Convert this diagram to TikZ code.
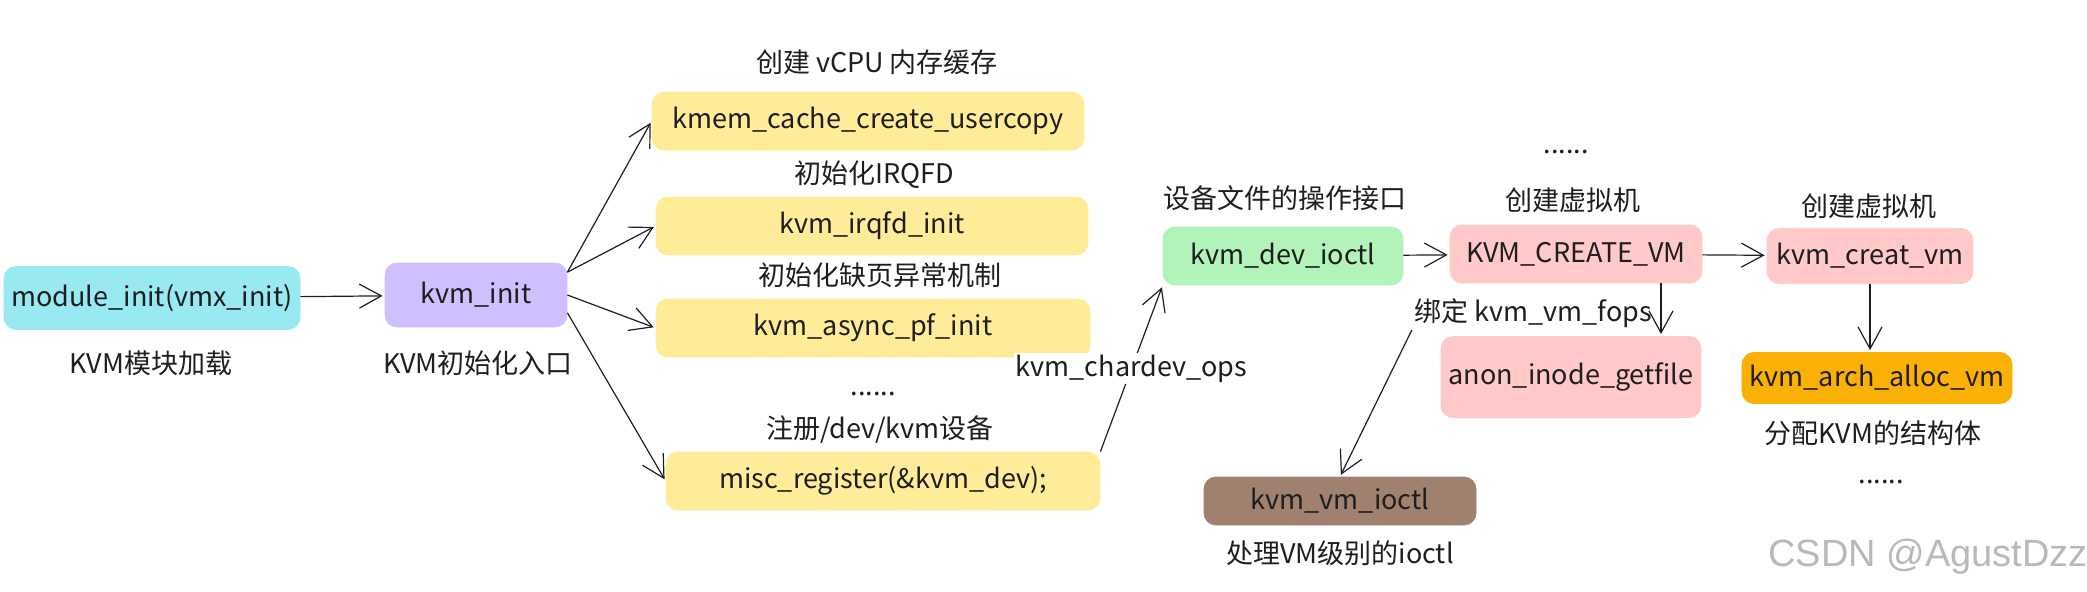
\documentclass[tikz,border=0pt]{standalone}
\usepackage{fontspec}
\setmainfont{Noto Sans CJK SC}
\newfontfamily\markfont{Liberation Sans}
\usepackage{tikz}
\usetikzlibrary{arrows.meta, positioning, calc}
\definecolor{initcyan}{HTML}{99E9F2}
\definecolor{initviolet}{HTML}{D0BFFF}
\definecolor{stepyellow}{HTML}{FFEC99}
\definecolor{opsgreen}{HTML}{B2F2BB}
\definecolor{vmpink}{HTML}{FFC9C9}
\definecolor{allocorange}{HTML}{FAB005}
\definecolor{ioctlbrown}{HTML}{A08170}
\definecolor{ink}{HTML}{1E1E1E}

\begin{document}
\begin{tikzpicture}[
    x=0.5pt, y=-0.5pt,
    >={Straight Barb[length=11pt, width=12pt]},
    fnbox/.style={rounded corners=6pt, minimum height=29pt, inner sep=0pt, text=ink, font=\fontsize{13.5}{16}\selectfont, fill=#1, draw=#1},
    note/.style={text=ink, font=\fontsize{13.5}{15}\selectfont, inner sep=1pt},
    flow/.style={->, ink, line width=0.6pt, shorten >=1pt},
]
    \useasboundingbox (0,0) rectangle (2087,591);

    % module entry
    \node[fnbox=initcyan, minimum width=148pt, minimum height=31.5pt] (modinit) at (152,298) {module\_init(vmx\_init)};
    \node[note] (modinit-lbl) at (151,363) {KVM模块加载};

    \node[fnbox=initviolet, minimum width=91pt, minimum height=32pt] (kvminit) at (476,295) {kvm\_init};
    \node[note] (kvminit-lbl) at (478,363) {KVM初始化入口};

    % steps inside kvm_init
    \node[note] (kmem-lbl) at (877,62) {创建 vCPU 内存缓存};
    \node[fnbox=stepyellow, minimum width=216pt] (kmem) at (868,121) {kmem\_cache\_create\_usercopy};
    \node[note] (irqfd-lbl) at (874,175) {初始化IRQFD};
    \node[fnbox=stepyellow, minimum width=216pt] (irqfd) at (872,226) {kvm\_irqfd\_init};
    \node[note] (asyncpf-lbl) at (880,275) {初始化缺页异常机制};
    \node[fnbox=stepyellow, minimum width=217pt] (asyncpf) at (873,328) {kvm\_async\_pf\_init};
    \node[note, anchor=base] (more1) at (873,395) {......};
    \node[note] (misc-lbl) at (880,430) {注册/dev/kvm设备};
    \node[fnbox=stepyellow, minimum width=217pt] (misc) at (883,481) {misc\_register(\&kvm\_dev);};

    % /dev/kvm ioctl path
    \node[note] (devioctl-lbl) at (1285,198) {设备文件的操作接口};
    \node[fnbox=opsgreen, minimum width=120pt] (devioctl) at (1283,256) {kvm\_dev\_ioctl};
    \node[note, anchor=base] (more2) at (1566,153) {......};
    \node[note] (createvm-lbl) at (1573,200) {创建虚拟机};
    \node[fnbox=vmpink, minimum width=126pt] (createvm) at (1576,254) {KVM\_CREATE\_VM};
    \node[note] (creatvm-lbl) at (1869,206) {创建虚拟机};
    \node[fnbox=vmpink, minimum width=103pt, minimum height=27.5pt] (creatvm) at (1870,256) {kvm\_creat\_vm};
    \node[note] (bind) at (1533,313) {绑定 kvm\_vm\_fops};
    \node[fnbox=vmpink, minimum width=130pt, minimum height=40.5pt] (anon) at (1571,377) {anon\_inode\_getfile};
    \node[fnbox=allocorange, minimum width=135pt, minimum height=25.5pt] (archalloc) at (1877,378) {kvm\_arch\_alloc\_vm};
    \node[note] (archalloc-lbl) at (1873,433) {分配KVM的结构体};
    \node[note, anchor=base] (more3) at (1881,483) {......};
    \node[fnbox=ioctlbrown, minimum width=136pt, minimum height=24pt] (vmioctl) at (1340,501) {kvm\_vm\_ioctl};
    \node[note] (vmioctl-lbl) at (1340,553) {处理VM级别的ioctl};

    \node[font=\markfont\fontsize{19}{21}\selectfont, text=gray!55] (mark) at (1928,557) {CSDN @AgustDzz};

    % arrows
    \draw[flow] (modinit) -- (kvminit);
    \draw[flow] (kvminit.14) -- (kmem.west);
    \draw[flow] (kvminit.14) -- (irqfd.west);
    \draw[flow] (kvminit.east) -- (asyncpf.west);
    \draw[flow] (kvminit.-11) -- (misc.west);
    \draw[flow] (misc.north east) -- node[note, fill=white] (chardev) {kvm\_chardev\_ops} (devioctl.south west);
    \draw[flow] (devioctl) -- (createvm);
    \draw[flow] (createvm) -- (creatvm);
    \draw[flow] ($(createvm.south)+(85,0)$) -- ($(anon.north)+(90,0)$);
    \draw[flow] (creatvm.south) -- (creatvm.south |- archalloc.north);
    \draw[flow] (bind.south west) -- (vmioctl.north);
\end{tikzpicture}
\end{document}
